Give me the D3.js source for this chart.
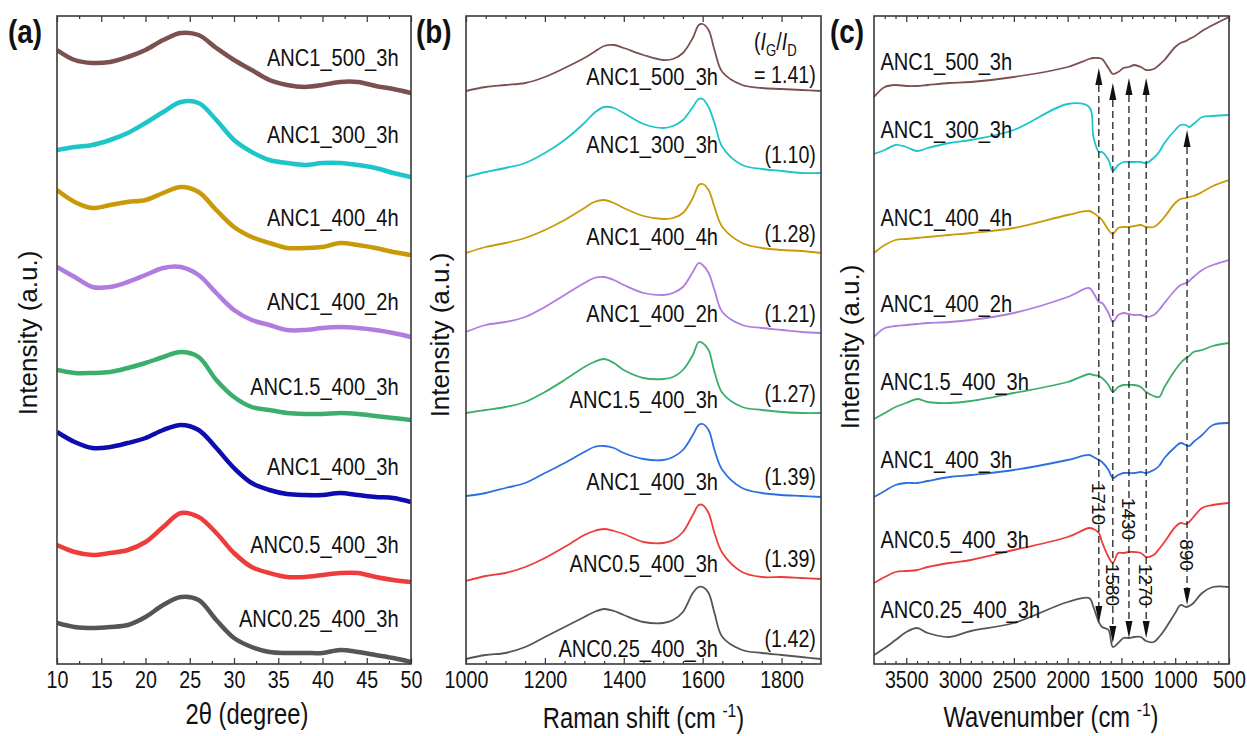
<!DOCTYPE html>
<html>
<head>
<meta charset="utf-8">
<script src="https://cdn.jsdelivr.net/npm/d3@7"></script>
<style>
  body { margin: 0; background: #fff; }
  svg text { font-family: "Liberation Sans", Arial, sans-serif; fill: #111; }
</style>
</head>
<body>
<script>
// sample names, top to bottom
const samples = ['ANC1_500_3h', 'ANC1_300_3h', 'ANC1_400_4h', 'ANC1_400_2h',
  'ANC1.5_400_3h', 'ANC1_400_3h', 'ANC0.5_400_3h', 'ANC0.25_400_3h'];

// (a) XRD, stacked intensity (a.u.)
const xrdAngle = [10, 12, 14, 16, 18, 20, 22, 24, 26, 28, 30, 32, 34, 36, 38, 40, 42, 44, 46, 48, 50];
const xrdANC1_500_3h = [614, 604, 601, 602, 607, 614, 624, 631, 629, 616, 604, 594, 584, 579, 577, 579, 582, 582, 578, 575, 571];
const xrdANC1_300_3h = [514, 517, 519, 524, 531, 541, 552, 562, 561, 544, 524, 512, 504, 501, 499, 501, 501, 499, 496, 491, 487];
const xrdANC1_400_4h = [474, 462, 456, 459, 462, 464, 471, 477, 472, 454, 437, 427, 421, 416, 416, 417, 421, 419, 416, 412, 409];
const xrdANC1_400_2h = [397, 387, 377, 377, 382, 389, 396, 397, 389, 371, 354, 344, 339, 334, 334, 336, 337, 336, 334, 331, 327];
const xrdANC15_400_3h = [294, 291, 291, 292, 296, 301, 307, 312, 307, 284, 267, 257, 254, 251, 250, 250, 251, 250, 248, 246, 244];
const xrdANC1_400_3h = [232, 222, 216, 217, 221, 226, 234, 239, 234, 216, 196, 181, 174, 170, 169, 169, 171, 169, 167, 166, 162];
const xrdANC05_400_3h = [119, 112, 109, 111, 114, 122, 137, 151, 147, 131, 111, 97, 91, 87, 87, 89, 91, 91, 87, 84, 82];
const xrdANC025_400_3h = [41, 37, 36, 37, 39, 47, 59, 67, 64, 44, 26, 17, 12, 11, 11, 11, 14, 12, 9, 6, 2];

// (b) Raman, stacked intensity (a.u.)
const ramanShift = [1000, 1050, 1100, 1150, 1200, 1250, 1300, 1325, 1350, 1375, 1400, 1450, 1500, 1525, 1550, 1575, 1590, 1600, 1615, 1630, 1650, 1700, 1750, 1800, 1850, 1900];
const ramanANC1_500_3h = [573, 577, 579, 581, 587, 596, 606, 612, 618, 619, 616, 609, 604, 605, 611, 626, 639, 640, 634, 614, 592, 579, 576, 575, 574, 573];
const ramanANC1_300_3h = [487, 492, 496, 501, 511, 524, 541, 551, 557, 556, 551, 540, 536, 538, 544, 557, 565, 565, 557, 541, 517, 499, 495, 493, 491, 491];
const ramanANC1_400_4h = [411, 417, 421, 426, 434, 444, 456, 462, 464, 461, 456, 448, 445, 446, 451, 466, 479, 480, 474, 457, 437, 421, 416, 414, 413, 411];
const ramanANC1_400_2h = [332, 339, 342, 347, 357, 369, 381, 386, 387, 384, 379, 371, 369, 371, 377, 392, 401, 399, 391, 374, 352, 339, 336, 334, 332, 331];
const ramanANC15_400_3h = [251, 254, 257, 262, 272, 284, 297, 302, 305, 301, 294, 286, 285, 287, 294, 309, 322, 321, 314, 292, 271, 257, 254, 252, 251, 251];
const ramanANC1_400_3h = [168, 171, 176, 181, 191, 201, 212, 217, 218, 216, 211, 205, 204, 207, 214, 229, 239, 240, 234, 214, 194, 176, 171, 169, 168, 167];
const ramanANC05_400_3h = [83, 88, 91, 97, 106, 117, 129, 133, 135, 133, 130, 122, 121, 124, 132, 149, 159, 159, 151, 131, 111, 92, 87, 87, 86, 85];
const ramanANC025_400_3h = [5, 9, 11, 17, 27, 37, 47, 52, 55, 53, 49, 42, 41, 44, 52, 71, 77, 77, 71, 51, 27, 14, 11, 9, 7, 5];
const ratioIGID = ['= 1.41)', '(1.10)', '(1.28)', '(1.21)', '(1.27)', '(1.39)', '(1.39)', '(1.42)'];

// (c) FTIR, stacked transmittance (a.u.)
const wavenumber = [3800, 3700, 3600, 3500, 3400, 3300, 3100, 2900, 2500, 2000, 1800, 1760, 1710, 1680, 1620, 1580, 1530, 1480, 1430, 1380, 1320, 1270, 1200, 1150, 1100, 1000, 950, 900, 870, 830, 750, 650, 500];
const irANC1_500_3h = [567, 577, 579, 578, 578, 579, 581, 582, 587, 597, 605, 606, 606, 605, 596, 590, 592, 596, 597, 599, 597, 594, 595, 599, 604, 617, 621, 623, 625, 627, 633, 639, 647];
const irANC1_300_3h = [510, 514, 519, 517, 513, 516, 521, 524, 534, 560, 557, 527, 512, 512, 504, 493, 499, 502, 502, 502, 502, 501, 506, 512, 521, 534, 539, 539, 537, 540, 547, 548, 549];
const irANC1_400_4h = [411, 419, 424, 425, 426, 427, 429, 431, 436, 449, 453, 451, 447, 444, 434, 430, 436, 437, 437, 438, 439, 437, 437, 441, 447, 461, 465, 466, 467, 468, 472, 478, 484];
const irANC1_400_2h = [327, 336, 338, 339, 340, 341, 342, 344, 351, 367, 376, 371, 362, 361, 351, 342, 349, 351, 350, 349, 349, 347, 349, 354, 361, 374, 379, 381, 383, 387, 394, 399, 404];
const irANC15_400_3h = [245, 251, 257, 261, 265, 262, 261, 263, 271, 282, 290, 289, 288, 286, 279, 272, 277, 279, 279, 279, 277, 272, 268, 267, 277, 294, 301, 306, 308, 312, 314, 318, 321];
const irANC1_400_3h = [167, 173, 179, 181, 181, 183, 187, 189, 194, 204, 209, 207, 204, 202, 194, 186, 189, 191, 191, 191, 192, 191, 194, 198, 206, 217, 221, 219, 218, 222, 229, 239, 241];
const irANC05_400_3h = [81, 87, 92, 93, 94, 97, 101, 104, 114, 127, 136, 135, 131, 122, 107, 101, 111, 111, 112, 112, 111, 107, 109, 115, 122, 137, 141, 140, 142, 147, 156, 159, 161];
const irANC025_400_3h = [9, 16, 24, 32, 36, 31, 27, 33, 41, 62, 66, 57, 42, 37, 34, 17, 21, 26, 26, 27, 27, 23, 22, 27, 34, 51, 59, 57, 58, 61, 71, 77, 77];

// marked FTIR bands: arrow tips and label centre (a.u.)
const bandWavenumber = [1710, 1580, 1430, 1270, 890];
const bandArrowTop = [596, 581, 586, 586, 534];
const bandArrowBottom = [41, 21, 26, 26, 59];
const bandLabelAt = [160, 79, 145, 79, 109];

const colorsA = ['#7d5050', '#1cc6c8', '#c99a08', '#b07ce0', '#3cae6c', '#0c0cb0', '#ee3c3c', '#555555'];
const colorsBC = ['#7d5050', '#1cc6c8', '#c99a08', '#b07ce0', '#3cae6c', '#2c70e0', '#ee3c3c', '#555555'];

const W = 1247, H = 736;
const SX = 0.82; // lettering in the original is squeezed horizontally
const plotTop = 16, plotBottom = 664;

const svg = d3.select('body').append('svg').attr('width', W).attr('height', H);
const y = d3.scaleLinear().domain([0, 648]).range([plotBottom, plotTop]);

function hText(g, x, yy, str, size, anchor, weight) {
  return g.append('text')
    .attr('transform', `translate(${x},${yy}) scale(${SX},1)`)
    .attr('text-anchor', anchor || 'start')
    .style('font-size', size + 'px')
    .style('font-weight', weight || 'normal')
    .text(str);
}

function drawPanel(p) {
  const x = d3.scaleLinear().domain(p.domain).range([p.left, p.right]);
  const g = svg.append('g');

  const clipId = 'clip-' + p.name;
  svg.append('clipPath').attr('id', clipId)
    .append('rect')
    .attr('x', p.left).attr('y', plotTop)
    .attr('width', p.right - p.left).attr('height', plotBottom - plotTop);

  // curves
  const line = d3.line()
    .x((d, i) => x(p.xs[i]))
    .y(d => y(d))
    .curve(d3.curveCatmullRom.alpha(0.5));
  g.append('g').attr('clip-path', `url(#${clipId})`)
    .selectAll('path')
    .data(p.series)
    .enter()
    .append('path')
    .attr('d', line)
    .attr('fill', 'none')
    .attr('stroke', (d, i) => p.colors[i])
    .attr('stroke-width', p.width)
    .attr('stroke-linejoin', 'round');

  // ticks, pointing inwards, top and bottom
  const bot = g.append('g').attr('transform', `translate(0,${plotBottom})`)
    .call(d3.axisBottom(x).tickValues(p.major).tickSize(-6).tickPadding(7).tickFormat(d3.format('d')));
  bot.selectAll('text').attr('transform', `scale(${SX},1)`).style('font-size', '24px');
  g.append('g').attr('transform', `translate(0,${plotBottom})`)
    .call(d3.axisBottom(x).tickValues(p.minor).tickSize(-3).tickFormat(''));
  g.append('g').attr('transform', `translate(0,${plotTop})`)
    .call(d3.axisTop(x).tickValues(p.major).tickSize(-6).tickFormat(''));
  g.append('g').attr('transform', `translate(0,${plotTop})`)
    .call(d3.axisTop(x).tickValues(p.minor).tickSize(-3).tickFormat(''));
  g.selectAll('.domain').remove();
  g.selectAll('.tick line').attr('stroke', '#333').attr('stroke-width', 1.2);

  // frame
  g.append('rect')
    .attr('x', p.left).attr('y', plotTop)
    .attr('width', p.right - p.left).attr('height', plotBottom - plotTop)
    .attr('fill', 'none').attr('stroke', '#3a3a3a').attr('stroke-width', 1.6);

  // sample labels
  samples.forEach((s, i) => {
    hText(g, x(p.labelX), y(p.labelY[i]), s, 24.5, p.labelAnchor);
  });

  // y title
  g.append('text')
    .attr('transform', `translate(${p.yTitleX},${p.yTitleY}) rotate(-90)`)
    .attr('text-anchor', 'middle')
    .attr('dy', '0.35em')
    .style('font-size', '26px')
    .text('Intensity (a.u.)');

  // panel letter
  hText(g, p.letterX, 43, p.letter, 34, 'start', 'bold');

  return { g, x };
}

// (a)
const a = drawPanel({
  name: 'a', domain: [10, 50], left: 57, right: 411,
  xs: xrdAngle,
  series: [xrdANC1_500_3h, xrdANC1_300_3h, xrdANC1_400_4h, xrdANC1_400_2h,
    xrdANC15_400_3h, xrdANC1_400_3h, xrdANC05_400_3h, xrdANC025_400_3h],
  colors: colorsA, width: 4.5,
  major: d3.range(10, 51, 5), minor: d3.range(12.5, 50, 5),
  labelX: 48.6, labelAnchor: 'end',
  labelY: [598, 521, 438, 354, 269, 189, 111, 37],
  yTitleX: 28, yTitleY: 333, letter: '(a)', letterX: 8
});
hText(a.g, 247, 724, '2θ (degree)', 29, 'middle');

// (b)
const b = drawPanel({
  name: 'b', domain: [1000, 1900], left: 466, right: 821,
  xs: ramanShift,
  series: [ramanANC1_500_3h, ramanANC1_300_3h, ramanANC1_400_4h, ramanANC1_400_2h,
    ramanANC15_400_3h, ramanANC1_400_3h, ramanANC05_400_3h, ramanANC025_400_3h],
  colors: colorsBC, width: 1.8,
  major: d3.range(1000, 1801, 200), minor: d3.range(1050, 1900, 50).filter(v => v % 200 !== 0),
  labelX: 1639, labelAnchor: 'end',
  labelY: [579, 511, 419, 342, 256, 174, 92, 7],
  yTitleX: 440, yTitleY: 335, letter: '(b)', letterX: 416
});
ratioIGID.forEach((r, i) => {
  hText(b.g, b.x(1887), y([581, 501, 422, 342, 262, 179, 97, 17][i]), r, 24, 'end');
});
const ig = b.g.append('text')
  .attr('transform', `translate(${b.x(1730)},${y(614)}) scale(${SX},1)`)
  .style('font-size', '24px');
ig.append('tspan').text('(');
ig.append('tspan').style('font-style', 'italic').text('I');
ig.append('tspan').attr('dy', 6).style('font-size', '16px').text('G');
ig.append('tspan').attr('dy', -6).text('/');
ig.append('tspan').style('font-style', 'italic').text('I');
ig.append('tspan').attr('dy', 6).style('font-size', '16px').text('D');
const rt = b.g.append('text')
  .attr('transform', `translate(643.5,728) scale(${SX},1)`)
  .attr('text-anchor', 'middle')
  .style('font-size', '29px');
rt.append('tspan').text('Raman shift (cm ');
rt.append('tspan').attr('dy', -11).style('font-size', '19px').text('-1');
rt.append('tspan').attr('dy', 11).text(')');

// (c)
const c = drawPanel({
  name: 'c', domain: [3800, 500], left: 874, right: 1229,
  xs: wavenumber,
  series: [irANC1_500_3h, irANC1_300_3h, irANC1_400_4h, irANC1_400_2h,
    irANC15_400_3h, irANC1_400_3h, irANC05_400_3h, irANC025_400_3h],
  colors: colorsBC, width: 1.8,
  major: d3.range(500, 3501, 500), minor: d3.range(600, 3800, 100).filter(v => v % 500 !== 0),
  labelX: 3740, labelAnchor: 'start',
  labelY: [594, 526, 438, 352, 274, 196, 116, 46],
  yTitleX: 850, yTitleY: 347, letter: '(c)', letterX: 830
});
const wt = c.g.append('text')
  .attr('transform', `translate(1051,727) scale(${SX},1)`)
  .attr('text-anchor', 'middle')
  .style('font-size', '29px');
wt.append('tspan').text('Wavenumber (cm ');
wt.append('tspan').attr('dy', -11).style('font-size', '19px').text('-1');
wt.append('tspan').attr('dy', 11).text(')');

// band markers: dashed guides with arrowheads and rotated labels
const headLen = 17, headHalf = 3.5;
bandWavenumber.forEach((w, i) => {
  const px = c.x(w);
  const yt = y(bandArrowTop[i]), yb = y(bandArrowBottom[i]);
  c.g.append('line')
    .attr('x1', px).attr('x2', px)
    .attr('y1', yt + headLen).attr('y2', yb - headLen)
    .attr('stroke', '#222').attr('stroke-width', 1.3)
    .attr('stroke-dasharray', '7,4');
  c.g.append('path')
    .attr('d', `M${px},${yt}L${px - headHalf},${yt + headLen}L${px + headHalf},${yt + headLen}Z`)
    .attr('fill', '#111');
  c.g.append('path')
    .attr('d', `M${px},${yb}L${px - headHalf},${yb - headLen}L${px + headHalf},${yb - headLen}Z`)
    .attr('fill', '#111');
  c.g.append('text')
    .attr('transform', `translate(${px},${y(bandLabelAt[i])}) rotate(90)`)
    .attr('text-anchor', 'middle')
    .attr('dy', '0.36em')
    .style('font-size', '19px')
    .text(w);
});
</script>
</body>
</html>
